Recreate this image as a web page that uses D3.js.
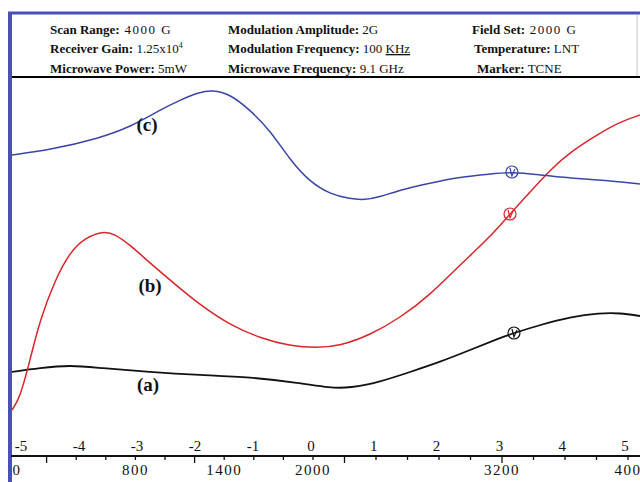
<!DOCTYPE html>
<html><head><meta charset="utf-8">
<script src="https://cdn.jsdelivr.net/npm/d3@7/dist/d3.min.js"></script>
<style>body{margin:0;background:#fff}svg{display:block}</style>
</head><body><svg id="c" width="640" height="482"></svg>
<script>
// Field (G) vs signal (arbitrary units)
const fieldA = [-40,155,358,561,899,1236,1574,1912,2108,2235,2425,2616,2806,2997,3187,3276,3441,3632,3822,3949,4076];
const sigA   = [83,87,90,87,83,80,78,72,67,67,73,83,93,105,117,122,130,138,142,142,139];
const fieldB = [-34,20,88,155,257,358,459,581,662,764,899,1034,1236,1439,1642,1845,2019,2171,2362,2552,2743,2933,3124,3251,3378,3505,3632,3822,3949,4076];
const sigB   = [45,57,95,135,175,203,217,224,221,210,192,175,150,130,117,109,107,109,120,137,160,190,218,241,263,285,303,322,333,340];
const fieldC = [-40,223,561,764,966,1101,1236,1318,1439,1574,1709,1845,1980,2108,2235,2330,2425,2552,2743,2933,3124,3263,3441,3632,3822,4076];
const sigC   = [300,305,317,328,345,355,363,365,361,345,325,295,273,261,256,255,258,265,272,278,281,283,280,277,275,271];
const seriesNames = ["(a)","(b)","(c)"];
const markerField = [3276,3251,3263];
const markerSig   = [122,241,283];
const gTicks   = [0,800,1400,2000,3200,4000];
const gTickLabels = ["0","800","1400","2000","3200","400"];
const topTicks = [-5,-4,-3,-2,-1,0,1,2,3,4,5];
const header = [
  [["Scan Range:"," 4000 G"],["Modulation Amplitude:"," 2G"],["Field Set:"," 2000 G"]],
  [["Receiver Gain:"," 1.25x10","4"],["Modulation Frequency:"," 100 ","KHz"],["Temperature:"," LNT"]],
  [["Microwave Power:"," 5mW"],["Microwave Frequency:"," 9.1 GHz"],["Marker:"," TCNE"]]
];

const svg = d3.select("#c");
const colors = ["#111111","#d8262a","#3a46a6"];
const x = d3.scaleLinear().domain([0,2000,4000]).range([17,313,628]);
const xTop = d3.scaleLinear().domain([-5,0,5]).range([21,311,625]);
const y = d3.scaleLinear().domain([0,400]).range([455,55]);

// frame
const frameCol = "#4b50b8";
svg.append("line").attr("x1",8).attr("x2",640).attr("y1",13).attr("y2",13).attr("stroke",frameCol).attr("stroke-width",3);
svg.append("line").attr("x1",10).attr("x2",10).attr("y1",12).attr("y2",482).attr("stroke",frameCol).attr("stroke-width",4);
svg.append("line").attr("x1",12).attr("x2",640).attr("y1",77).attr("y2",77).attr("stroke","#000").attr("stroke-width",2);
svg.append("line").attr("x1",637).attr("x2",637).attr("y1",15).attr("y2",76).attr("stroke","#ccc").attr("stroke-width",1);

// header
const colX = [50,228,472];
const rowY = [34,53,73];
header.forEach((row,ri)=>row.forEach((cell,ci)=>{
  const t = svg.append("text").attr("x",colX[ci]+(ri===1&&ci===2?2:0)+(ri===2&&ci===2?5:0)).attr("y",rowY[ri])
    .attr("font-family","Liberation Serif, Times New Roman, serif").attr("font-size",13).attr("fill","#111");
  t.append("tspan").attr("font-weight","bold").text(cell[0]);
  const v = t.append("tspan").text(cell[1]);
  if(ri===0&&ci!==1) v.attr("letter-spacing",1.5);
  if(cell.length>2){
    if(ri===1&&ci===0) t.append("tspan").attr("font-size",8).attr("dy",-5).text(cell[2]);
    else t.append("tspan").attr("text-decoration","underline").text(cell[2]);
  }
}));

// curves
svg.append("clipPath").attr("id","pc").append("rect").attr("x",12).attr("y",79).attr("width",628).attr("height",370);
const line = d3.line().x(d=>x(d[0])).y(d=>y(d[1])).curve(d3.curveBasis);
const fields=[fieldA,fieldB,fieldC], sigs=[sigA,sigB,sigC];
fields.forEach((f,i)=>{
  svg.append("path").attr("clip-path","url(#pc)")
    .attr("d",line(f.map((v,j)=>[v,sigs[i][j]])))
    .attr("fill","none").attr("stroke",colors[i]).attr("stroke-width",i===0?1.8:1.5);
});
// markers
markerField.forEach((f,i)=>{
  const cx=x(f), cy=y(markerSig[i]);
  const g=svg.append("g").attr("stroke",colors[i]).attr("fill","none").attr("stroke-width",1.2);
  g.append("circle").attr("cx",cx).attr("cy",cy).attr("r",6);
  g.append("path").attr("d",`M${cx-2},${cy-4}L${cx},${cy+4}L${cx+3},${cy-3}`);
});
// labels
const labelPos = [[148,391],[150,292],[147,131]];
seriesNames.forEach((n,i)=>{
  svg.append("text").attr("x",labelPos[i][0]).attr("y",labelPos[i][1]).attr("text-anchor","middle")
    .attr("font-family","Liberation Serif, Times New Roman, serif").attr("font-weight","bold").attr("font-size",19).attr("fill","#111").text(n);
});

// axis
const axY = 456;
svg.append("line").attr("x1",11).attr("x2",640).attr("y1",axY).attr("y2",axY).attr("stroke","#111").attr("stroke-width",2);
const minor = d3.range(200,4001,200);
svg.selectAll(".mt").data(minor).enter().append("line")
  .attr("x1",d=>x(d)).attr("x2",d=>x(d)).attr("y1",axY).attr("y2",d=>d%1000===200?axY+7:axY+4)
  .attr("stroke","#111").attr("stroke-width",1.3);
svg.selectAll(".tt").data(topTicks).enter().append("text")
  .attr("x",d=>xTop(d)).attr("y",axY-5).attr("text-anchor","middle")
  .attr("font-family","Liberation Serif, Times New Roman, serif").attr("font-size",15).attr("fill","#111")
  .text(d=>d<0?"-"+Math.abs(d):String(d));
svg.selectAll(".bt").data(gTicks).enter().append("text")
  .attr("x",d=>x(d)).attr("y",axY+19).attr("text-anchor","middle").attr("letter-spacing",1.5)
  .attr("font-family","Liberation Serif, Times New Roman, serif").attr("font-size",15).attr("fill","#111")
  .text((d,i)=>gTickLabels[i]);
</script></body></html>
